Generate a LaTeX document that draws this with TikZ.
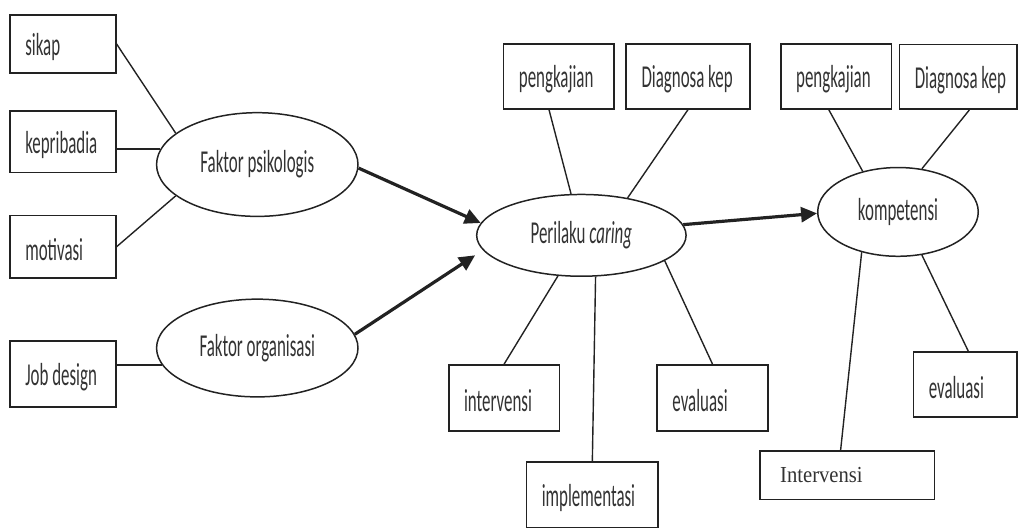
\documentclass[tikz,border=0pt]{standalone}
\usepackage{fontspec}
\newfontfamily\calib[FakeStretch=0.53]{Carlito}
\newfontfamily\timesl[FakeStretch=0.9]{Liberation Serif}
\usepackage{tikz}
\usetikzlibrary{arrows.meta,shapes.geometric}

\definecolor{inkline}{HTML}{222222}
\definecolor{inktext}{HTML}{333333}

\tikzset{
  kotak/.style={draw=inkline, line width=1.7pt, inner sep=0pt},
  isi/.style={anchor=west, inner sep=0pt, xshift=16pt, yshift=-3pt, text=inktext,
    font=\calib\fontsize{32}{34}\selectfont},
  elips/.style={ellipse, draw=inkline, line width=1.5pt, inner sep=0pt,
    text=inktext, font=\calib\fontsize{32}{34}\selectfont},
  garis/.style={draw=inkline, line width=1.4pt},
  panah/.style={draw=inkline, line width=3.2pt, -{Triangle[length=16pt,width=15pt]}},
}

\begin{document}
\begin{tikzpicture}[x=1pt, y=-1pt]

    %% Background
    \draw[draw=none] (0,0) rectangle (1018,525);

    % Factors
    \node[kotak, minimum width=106pt, minimum height=58pt, label={[isi]west:sikap}] (sikap) at (63,44) {};
    \node[kotak, minimum width=106pt, minimum height=62pt, label={[isi]west:kepribadia}] (kepri) at (63,142) {};
    \node[kotak, minimum width=106pt, minimum height=63pt, label={[isi]west:motivasi}] (motiv) at (63,247.5) {};
    \node[kotak, minimum width=106pt, minimum height=66pt, label={[isi]west:Job design}] (jobd) at (63,375) {};

    \node[elips, minimum width=202pt, minimum height=104pt] (psiko) at (258,165) {Faktor psikologis};
    \node[elips, minimum width=202pt, minimum height=98pt] (organ) at (258,349) {Faktor organisasi};

    \draw[garis] (sikap.east) -- (psiko.159);
    \draw[garis] (psiko.171) -- (psiko.171 -| kepri.east);
    \draw[garis] (motiv.east) -- (psiko.201);
    \draw[garis] (organ.190) -- (organ.190 -| jobd.east);

    % Perilaku caring
    \node[elips, minimum width=210pt, minimum height=82pt] (caring) at (583,236) {Perilaku \textit{caring}};

    \node[kotak, minimum width=111pt, minimum height=65pt, label={[isi]west:pengkajian}] (pengA) at (560.5,76.5) {};
    \node[kotak, minimum width=124pt, minimum height=65pt, label={[isi]west:Diagnosa kep}] (diagA) at (690,76.5) {};
    \node[kotak, minimum width=111pt, minimum height=66pt, label={[isi]west:intervensi}] (interv) at (505.5,399) {};
    \node[kotak, minimum width=111pt, minimum height=66pt, label={[isi]west:evaluasi}] (evalA) at (714.5,399) {};
    \node[kotak, minimum width=132pt, minimum height=66pt, label={[isi]west:implementasi}] (impl) at (594,496) {};

    \draw[garis] ([xshift=-10pt]pengA.south) -- (caring.104);
    \draw[garis] (diagA.south) -- (caring.39);
    \draw[garis] (caring.240) -- (interv.north);
    \draw[garis] (caring.289) -- (impl.north);
    \draw[garis] (caring.343) -- (evalA.north);

    % Kompetensi
    \node[elips, minimum width=161pt, minimum height=89pt] (kompet) at (900.5,212.5) {kompetensi};

    \node[kotak, minimum width=111pt, minimum height=65pt, label={[isi]west:pengkajian}] (pengB) at (838.5,76.5) {};
    \node[kotak, minimum width=118pt, minimum height=65pt, label={[isi]west:Diagnosa kep}] (diagB) at (961,77) {};
    \node[kotak, minimum width=104pt, minimum height=65pt, label={[isi]west:evaluasi}] (evalB) at (968,385.5) {};
    \node[kotak, minimum width=175pt, minimum height=49pt,
      label={[isi, xshift=5pt, yshift=3pt, font=\timesl\fontsize{23}{25}\selectfont]west:Intervensi}] (intervB) at (849.5,476.5) {};

    \draw[garis] ([xshift=-7.5pt]pengB.south) -- (kompet.131);
    \draw[garis] ([xshift=11pt]diagB.south) -- (kompet.61);
    \draw[garis] (kompet.228) -- ([xshift=-6.5pt]intervB.north);
    \draw[garis] (kompet.299) -- ([xshift=3pt]evalB.north);

    % Arrows
    \draw[panah] (psiko.-2) -- (caring.173);
    \draw[panah] (organ.8) -- ([xshift=-10pt,yshift=-3pt]caring.190);
    \draw[panah] (caring.6) -- (kompet.181);

\end{tikzpicture}
\end{document}
